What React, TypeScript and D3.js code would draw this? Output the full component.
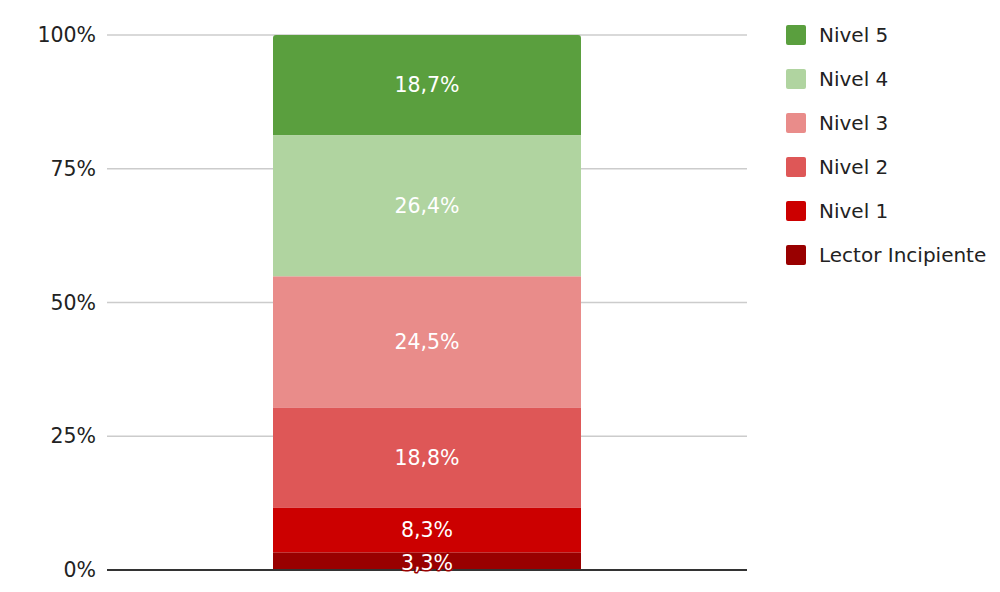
import React from "react";
import * as d3 from "d3";

const categories = ["Lector Incipiente", "Nivel 1", "Nivel 2", "Nivel 3", "Nivel 4", "Nivel 5"];
const values = [3.3, 8.3, 18.8, 24.5, 26.4, 18.7];
const colors = ["#990000", "#cc0000", "#de5757", "#e98c8a", "#b0d4a0", "#5a9f3e"];
const yTicks = [0, 25, 50, 75, 100];
const legendOrder = ["Nivel 5", "Nivel 4", "Nivel 3", "Nivel 2", "Nivel 1", "Lector Incipiente"];

const W = 1000;
const H = 592;
const FONT = "'DejaVu Sans', Verdana, sans-serif";
const FS = 20.5;

export default function App() {
  const plotLeft = 107;
  const plotRight = 747;
  const y = d3.scaleLinear().domain([0, 100]).range([570, 35]);
  const x = d3.scaleBand().domain(["a"]).range([plotLeft, plotRight]).paddingInner(0).paddingOuter(0.539);
  const bx = x("a") as number;
  const bw = x.bandwidth();

  let acc = 0;
  const segs = values.map((v, i) => {
    const y0 = acc;
    acc += v;
    return { v, y0, y1: acc, color: colors[i], cat: categories[i] };
  });

  const fmt = (v: number) => v.toFixed(1).replace(".", ",") + "%";

  return (
    <svg width={W} height={H} style={{ position: "absolute", left: 0, top: 0 }} fontFamily={FONT}>
      <rect width={W} height={H} fill="#fff" />
      {yTicks.map((t) => (
        <g key={t}>
          {t !== 0 && (
            <line x1={plotLeft} x2={plotRight} y1={y(t)} y2={y(t)} stroke="#cccccc" strokeWidth={1.5} />
          )}
          <text x={96} y={y(t)} dy="0.35em" textAnchor="end" fontSize={FS} fill="#222">
            {t}%
          </text>
        </g>
      ))}
      {segs.map((s, i) => {
        const top = y(s.y1);
        const bot = y(s.y0);
        const isTop = i === segs.length - 1;
        return isTop ? (
          <path
            key={s.cat}
            d={`M${bx},${bot} V${top + 3} Q${bx},${top} ${bx + 3},${top} H${bx + bw - 3} Q${bx + bw},${top} ${bx + bw},${top + 3} V${bot} Z`}
            fill={s.color}
          />
        ) : (
          <rect key={s.cat} x={bx} y={top} width={bw} height={bot - top} fill={s.color} />
        );
      })}
      <line x1={plotLeft} x2={plotRight} y1={y(0)} y2={y(0)} stroke="#333" strokeWidth={2} />
      {segs.map((s, i) => (
        <text
          key={"l" + s.cat}
          x={bx + bw / 2}
          y={(y(s.y0) + y(s.y1)) / 2 + (i === 0 ? 2 : 0)}
          dy="0.35em"
          textAnchor="middle"
          fontSize={FS}
          fill="#fff"
          stroke={i === 0 ? "#990000" : "none"}
          strokeWidth={i === 0 ? 3 : 0}
          strokeLinejoin="round"
          paintOrder="stroke"
        >
          {fmt(s.v)}
        </text>
      ))}
      {legendOrder.map((name, i) => {
        const idx = categories.indexOf(name);
        const cy = 35 + i * 44;
        return (
          <g key={name}>
            <rect x={786} y={cy - 10} width={20} height={20} rx={2} fill={colors[idx]} />
            <text x={819} y={cy} dy="0.35em" fontSize={FS - 0.5} fill="#222">
              {name}
            </text>
          </g>
        );
      })}
    </svg>
  );
}
